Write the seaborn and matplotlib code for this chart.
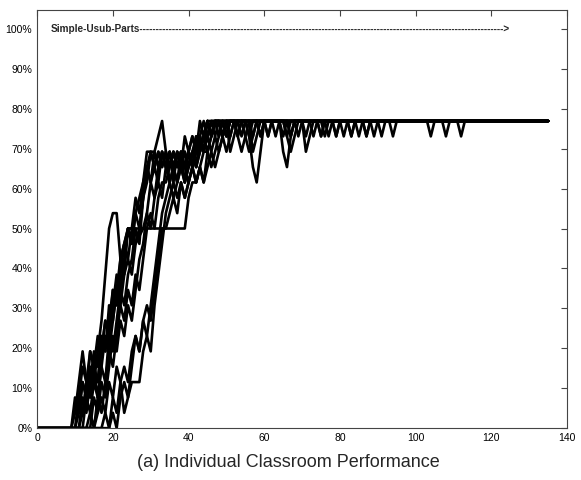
import pandas as pd
import matplotlib.pyplot as plt
import seaborn as sns
from matplotlib.ticker import PercentFormatter

# number of items in the assessment (scores are correct / total)
TOTAL = 26

# polyline vertices: (step, items correct)
room_01 = [(0, 0), (9, 0), (10, 2), (11, 1), (12, 3), (13, 2), (14, 4), (15, 3), (16, 5), (17, 7),
           (18, 10), (19, 13), (20, 14), (21, 14), (22, 11), (23, 12), (24, 13), (25, 13), (26, 15),
           (27, 14), (28, 16), (29, 17), (30, 16), (31, 18), (32, 17), (33, 18), (34, 17), (35, 18),
           (36, 16), (37, 18), (38, 17), (39, 18), (40, 17), (41, 18), (42, 17), (43, 19), (44, 20),
           (45, 19), (46, 20), (52, 20), (53, 19), (54, 20), (60, 20), (61, 19), (62, 20), (78, 20),
           (79, 19), (80, 20), (135, 20)]
room_02 = [(0, 0), (10, 0), (11, 1), (12, 3), (13, 2), (14, 5), (15, 4), (16, 3), (17, 5), (18, 7),
           (19, 6), (20, 9), (21, 8), (22, 11), (23, 10), (24, 13), (25, 12), (26, 14), (27, 15),
           (28, 16), (29, 18), (31, 18), (32, 19), (33, 20), (34, 18), (35, 17), (36, 18), (37, 17),
           (38, 18), (39, 16), (40, 17), (41, 18), (42, 17), (43, 18), (44, 19), (45, 20), (46, 19),
           (47, 20), (49, 20), (50, 19), (51, 20), (55, 20), (56, 19), (57, 20), (64, 20), (65, 19),
           (66, 20), (70, 20), (71, 19), (72, 20), (86, 20), (87, 19), (88, 20), (135, 20)]
room_03 = [(0, 0), (11, 0), (12, 1), (13, 3), (14, 2), (15, 4), (16, 3), (17, 6), (18, 5), (19, 8),
           (20, 7), (21, 9), (22, 11), (23, 12), (24, 13), (39, 13), (40, 15), (41, 16), (42, 16),
           (43, 17), (44, 18), (45, 18), (46, 19), (47, 20), (48, 19), (49, 20), (50, 20), (51, 19),
           (52, 20), (58, 20), (59, 19), (60, 20), (66, 20), (67, 19), (68, 20), (82, 20), (83, 19),
           (84, 20), (135, 20)]
room_04 = [(0, 0), (15, 0), (16, 1), (17, 2), (18, 1), (19, 3), (20, 2), (21, 4), (22, 3), (23, 1),
           (24, 2), (25, 3), (27, 3), (28, 5), (29, 6), (30, 8), (31, 10), (32, 12), (33, 14),
           (34, 15), (35, 16), (36, 15), (37, 16), (38, 17), (39, 16), (40, 17), (41, 18), (42, 17),
           (43, 18), (44, 19), (45, 18), (46, 19), (47, 20), (48, 19), (49, 20), (50, 19), (51, 20),
           (53, 20), (54, 19), (55, 20), (64, 20), (65, 18), (66, 17), (67, 19), (68, 20), (135, 20)]
room_05 = [(0, 0), (12, 0), (13, 2), (14, 1), (15, 3), (16, 2), (17, 4), (18, 6), (19, 5), (20, 7),
           (21, 9), (22, 8), (23, 10), (24, 11), (25, 10), (26, 12), (27, 13), (28, 15), (29, 16),
           (30, 18), (31, 17), (32, 18), (33, 17), (34, 18), (35, 16), (36, 17), (37, 16), (38, 18),
           (39, 17), (40, 18), (41, 17), (42, 18), (43, 19), (44, 18), (45, 19), (46, 20), (48, 18),
           (49, 19), (50, 20), (55, 20), (56, 19), (57, 17), (58, 16), (59, 18), (60, 20), (74, 20),
           (75, 19), (76, 20), (135, 20)]
room_06 = [(0, 0), (10, 0), (11, 2), (12, 4), (13, 3), (14, 5), (15, 4), (16, 2), (17, 4), (18, 3),
           (19, 6), (20, 5), (21, 7), (22, 9), (23, 8), (24, 10), (25, 11), (26, 13), (27, 12),
           (28, 15), (29, 17), (30, 16), (31, 17), (32, 16), (33, 18), (34, 17), (35, 16), (36, 17),
           (37, 16), (38, 17), (39, 16), (40, 18), (41, 17), (42, 19), (43, 18), (44, 19), (45, 20),
           (46, 19), (47, 20), (48, 20), (49, 19), (50, 20), (62, 20), (63, 19), (64, 20), (70, 20),
           (71, 18), (72, 19), (73, 20), (135, 20)]
room_07 = [(0, 0), (17, 0), (18, 1), (19, 0), (20, 2), (21, 1), (22, 3), (23, 4), (24, 3), (25, 5),
           (26, 6), (27, 5), (28, 7), (29, 6), (30, 5), (31, 8), (32, 10), (33, 12), (34, 14),
           (35, 15), (36, 16), (37, 15), (38, 16), (39, 15), (40, 16), (41, 17), (42, 16), (43, 17),
           (44, 16), (45, 17), (46, 18), (47, 17), (48, 18), (49, 19), (50, 18), (51, 19), (52, 20),
           (53, 19), (54, 18), (55, 19), (56, 20), (57, 19), (58, 20), (65, 20), (66, 19), (67, 20),
           (75, 20), (76, 19), (77, 20), (135, 20)]
room_08 = [(0, 0), (14, 0), (15, 2), (16, 1), (17, 3), (18, 2), (19, 4), (20, 6), (21, 5), (22, 7),
           (23, 6), (24, 8), (25, 7), (26, 9), (27, 11), (28, 12), (29, 14), (30, 13), (31, 15),
           (32, 16), (33, 15), (34, 17), (35, 18), (36, 17), (37, 18), (38, 17), (39, 19), (40, 18),
           (41, 19), (42, 18), (43, 19), (44, 18), (45, 20), (46, 19), (47, 20), (52, 20), (53, 19),
           (54, 20), (68, 20), (69, 19), (70, 20), (80, 20), (81, 19), (82, 20), (90, 20), (91, 19),
           (92, 20), (135, 20)]
room_09 = [(0, 0), (13, 0), (14, 1), (15, 0), (16, 2), (17, 1), (18, 3), (19, 5), (20, 4), (21, 6),
           (22, 8), (23, 7), (24, 9), (25, 8), (26, 10), (27, 9), (28, 11), (29, 13), (30, 14),
           (31, 13), (32, 15), (33, 16), (34, 16), (35, 17), (36, 18), (37, 17), (38, 18), (39, 17),
           (40, 16), (41, 17), (42, 18), (43, 19), (44, 18), (45, 19), (46, 18), (47, 19), (48, 20),
           (49, 19), (50, 20), (60, 20), (61, 19), (62, 20), (72, 20), (73, 19), (74, 20), (84, 20),
           (85, 19), (86, 20), (93, 20), (94, 19), (95, 20), (135, 20)]
room_10 = [(0, 0), (11, 0), (12, 2), (13, 1), (14, 3), (15, 5), (16, 4), (17, 6), (18, 5), (19, 7),
           (20, 9), (21, 8), (22, 10), (23, 12), (24, 11), (25, 13), (26, 12), (28, 13), (29, 14),
           (30, 16), (31, 15), (32, 17), (33, 18), (34, 17), (35, 18), (36, 17), (37, 18), (38, 17),
           (39, 18), (40, 17), (41, 18), (42, 19), (43, 18), (44, 19), (45, 20), (46, 19), (47, 20),
           (48, 20), (49, 19), (50, 20), (56, 20), (57, 18), (58, 19), (59, 20), (66, 20), (67, 19),
           (68, 20), (78, 20), (79, 19), (80, 20), (88, 20), (89, 19), (90, 20), (103, 20), (104, 19),
           (105, 20), (107, 20), (108, 19), (109, 20), (111, 20), (112, 19), (113, 20), (135, 20)]
room_11 = [(0, 0), (19, 0), (20, 1), (21, 0), (22, 2), (23, 3), (24, 2), (25, 4), (26, 6), (27, 5),
           (28, 7), (29, 8), (30, 7), (31, 9), (32, 11), (33, 13), (34, 13), (35, 14), (36, 15),
           (37, 14), (38, 16), (39, 15), (40, 16), (41, 17), (42, 16), (43, 17), (44, 16), (45, 18),
           (46, 17), (47, 18), (48, 19), (49, 20), (50, 19), (51, 20), (54, 20), (55, 19), (56, 18),
           (57, 19), (58, 20), (65, 20), (66, 19), (67, 18), (68, 19), (69, 20), (76, 20), (77, 19),
           (78, 20), (86, 20), (87, 19), (88, 20), (135, 20)]
room_12 = [(0, 0), (9, 0), (10, 1), (11, 3), (12, 5), (13, 3), (14, 2), (15, 4), (16, 6), (17, 5),
           (18, 7), (19, 6), (20, 8), (21, 10), (22, 9), (23, 11), (24, 13), (25, 12), (26, 14),
           (27, 13), (28, 15), (29, 17), (30, 18), (31, 17), (32, 18), (33, 17), (34, 18), (35, 17),
           (36, 18), (37, 17), (38, 18), (39, 17), (40, 18), (41, 19), (42, 18), (43, 20), (44, 19),
           (45, 20), (50, 20), (51, 18), (52, 19), (53, 20), (58, 20), (59, 19), (60, 20), (74, 20),
           (75, 19), (76, 20), (82, 20), (83, 19), (84, 20), (135, 20)]

rooms = [room_01, room_02, room_03, room_04, room_05, room_06,
         room_07, room_08, room_09, room_10, room_11, room_12]

x_ticks = [0, 20, 40, 60, 80, 100, 120, 140]
y_ticks = [i / 10 for i in range(11)]

rows = []
for i, room in enumerate(rooms):
    for step, correct in room:
        rows.append([i, step, correct / TOTAL])
df = pd.DataFrame(rows, columns=['room', 'step', 'score'])

sns.set_style('white')
plt.rcParams['font.family'] = ['Liberation Sans', 'DejaVu Sans']

fig = plt.figure(figsize=(5.81, 4.8), dpi=100)
ax = fig.add_axes([0.064, 0.108, 0.912, 0.871])

sns.lineplot(data=df, x='step', y='score', units='room', estimator=None,
             color='black', linewidth=1.9, sort=False, ax=ax)

ax.set_xlim(0, 140)
ax.set_ylim(0, 1.047)
ax.set_xticks(x_ticks)
ax.set_yticks(y_ticks)
ax.yaxis.set_major_formatter(PercentFormatter(1.0, decimals=0))
ax.tick_params(direction='in', length=4, width=0.8, labelsize=7.5,
               top=True, right=True, colors='#444444', labelcolor='black')
for spine in ax.spines.values():
    spine.set_color('#444444')
    spine.set_linewidth(0.8)
ax.set_xlabel('')
ax.set_ylabel('')

ax.text(3.5, 1.0, 'Simple-Usub-Parts' + '-' * 112 + '>', fontsize=7.2,
        fontweight='semibold', va='center', ha='left')

fig.text(0.497, 0.037, '(a) Individual Classroom Performance',
         fontsize=13, ha='center', va='center')

plt.savefig('out.png', dpi=100)
